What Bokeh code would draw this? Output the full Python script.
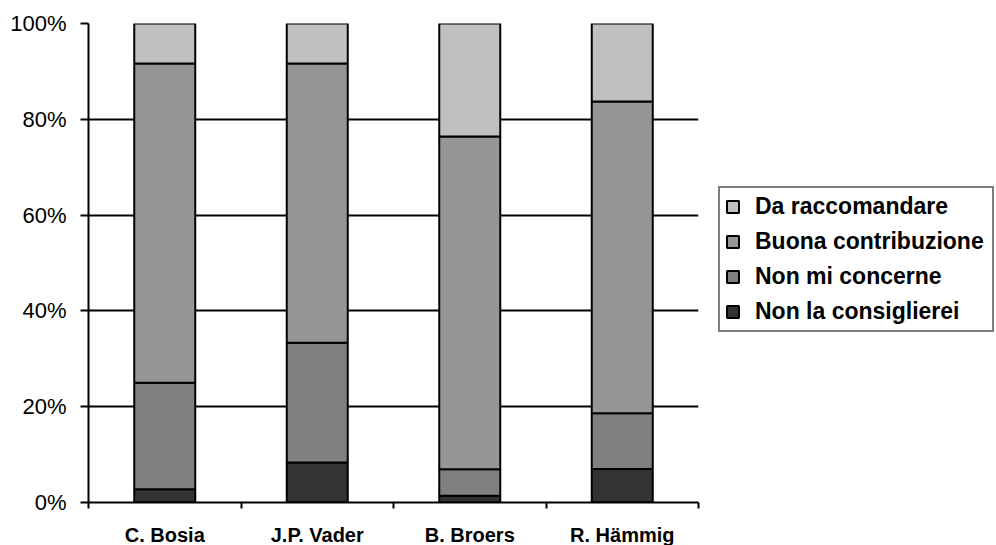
from bokeh.plotting import figure
from bokeh.models import (ColumnDataSource, FixedTicker, PrintfTickFormatter,
                          Legend, LegendItem, Range1d)
from bokeh.embed import file_html
from bokeh.resources import INLINE

categories = ["C. Bosia", "J.P. Vader", "B. Broers", "R. Hämmig"]
series = ["Non la consiglierei", "Non mi concerne", "Buona contribuzione", "Da raccomandare"]
non_la_consiglierei = [2.78, 8.33, 1.39, 6.98]
non_mi_concerne = [22.22, 25.0, 5.56, 11.63]
buona_contribuzione = [66.67, 58.33, 69.44, 65.12]
da_raccomandare = [8.33, 8.33, 23.61, 16.28]
y_ticks = [0, 20, 40, 60, 80, 100]
colors = ["#333333", "#808080", "#969696", "#C0C0C0"]

x_centers = [i + 0.5 for i in range(len(categories))]
x_bounds = list(range(len(categories) + 1))
keys = ["s0", "s1", "s2", "s3"]
source = ColumnDataSource(dict(x=x_centers, s0=non_la_consiglierei, s1=non_mi_concerne,
                               s2=buona_contribuzione, s3=da_raccomandare))

p = figure(frame_width=610, frame_height=479,
           x_range=Range1d(0, len(categories)), y_range=Range1d(0, 100),
           output_backend="svg", toolbar_location=None,
           min_border_left=88, min_border_top=23, min_border_bottom=43, min_border_right=298)
p.outline_line_color = None
p.background_fill_color = "white"
p.border_fill_color = "white"

renderers = p.vbar_stack(keys, x="x", width=0.4, fill_color=colors, line_color="black",
                         line_width=2, source=source)

# x axis
xa = p.xaxis[0]
xa.ticker = FixedTicker(ticks=x_centers, minor_ticks=x_bounds)
xa.major_label_overrides = {xc: c for xc, c in zip(x_centers, categories)}
xa.major_tick_out = 0
xa.major_tick_in = 0
xa.minor_tick_out = 6
xa.minor_tick_in = 0
xa.minor_tick_line_color = "black"
xa.minor_tick_line_width = 2
xa.axis_line_color = "black"
xa.axis_line_width = 2
xa.major_label_standoff = 15
xa.major_label_text_font = "Liberation Sans"
xa.major_label_text_font_style = "bold"
xa.major_label_text_font_size = "20px"
xa.major_label_text_color = "black"

# y axis
ya = p.yaxis[0]
ya.ticker = FixedTicker(ticks=y_ticks, minor_ticks=[])
ya.formatter = PrintfTickFormatter(format="%d%%")
ya.major_tick_out = 8
ya.major_tick_in = 0
ya.minor_tick_out = 0
ya.minor_tick_in = 0
ya.major_tick_line_color = "black"
ya.major_tick_line_width = 2
ya.axis_line_color = "black"
ya.axis_line_width = 2
ya.major_label_standoff = 14
ya.major_label_text_font = "Liberation Sans"
ya.major_label_text_font_size = "22px"
ya.major_label_text_color = "black"

p.xgrid.visible = False
p.ygrid.grid_line_color = "black"
p.ygrid.grid_line_width = 2

items = [LegendItem(label=series[i], renderers=[renderers[i]]) for i in reversed(range(len(series)))]
legend = Legend(items=items, location=(20, 170), margin=0, padding=5, spacing=8,
                glyph_width=15, glyph_height=15, label_standoff=15, label_width=232,
                label_text_font="Liberation Sans", label_text_font_style="bold",
                label_text_font_size="23px", label_text_color="black",
                border_line_color="black", border_line_width=2,
                background_fill_color="white", background_fill_alpha=1.0)
p.add_layout(legend, "right")

open("out.html", "w").write(file_html(p, INLINE))
